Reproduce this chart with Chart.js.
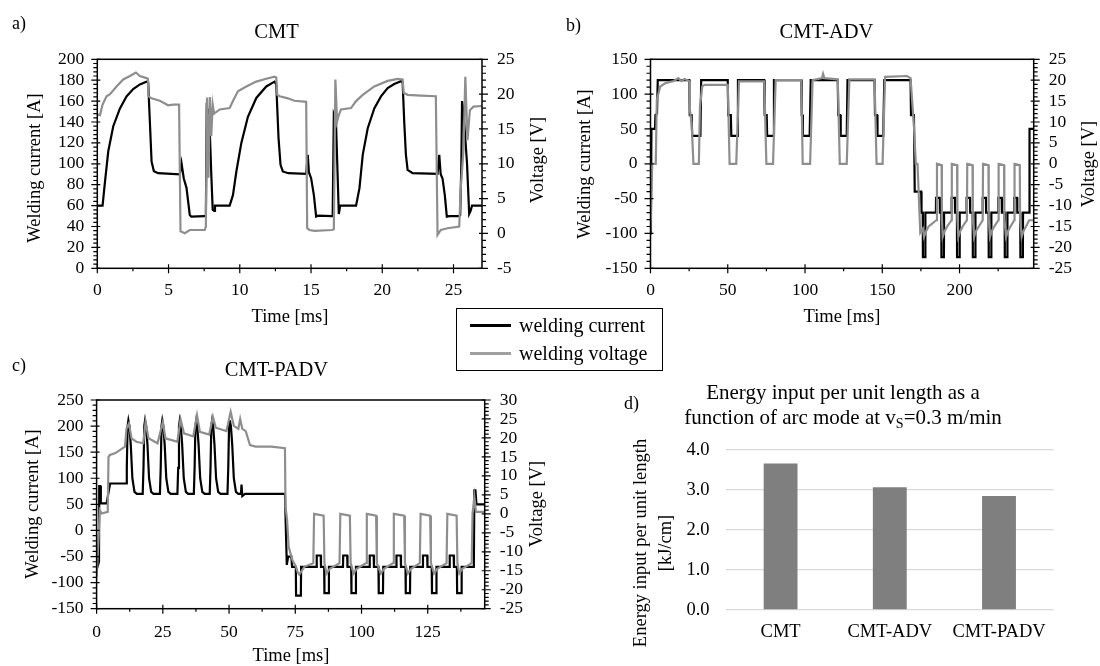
<!DOCTYPE html>
<html>
<head>
<meta charset="utf-8">
<script src="https://cdn.jsdelivr.net/npm/chart.js@4.4.1/dist/chart.umd.min.js"></script>
<style>
  body { margin: 0; background: #fff; width: 1100px; height: 666px; position: relative; overflow: hidden; font-family: 'Liberation Serif', 'Times New Roman', serif; color: #000; }
  canvas { position: absolute; }
  .tag { position: absolute; font-size: 18px; line-height: 20px; }
  #legend { position: absolute; left: 456px; top: 308px; width: 207px; height: 63px; box-sizing: border-box; border: 1.3px solid #000; background: #fff; }
  .swatch { position: absolute; left: 13px; width: 41px; height: 3px; }
  .ltext { position: absolute; left: 62px; font-size: 20px; line-height: 22px; white-space: nowrap; }
  #titleD { position: absolute; left: 643px; top: 380px; width: 400px; text-align: center; font-size: 21px; line-height: 25px; white-space: nowrap; }
  #titleD sub { font-size: 14px; line-height: 0; vertical-align: -4px; }
</style>
</head>
<body>
<canvas id="chartA" width="553" height="330" style="left:0;top:0"></canvas>
<canvas id="chartB" width="547" height="330" style="left:553px;top:0"></canvas>
<canvas id="chartC" width="553" height="336" style="left:0;top:330px"></canvas>
<canvas id="chartD" width="547" height="336" style="left:553px;top:330px"></canvas>

<div class="tag" style="left:12px;top:13px">a)</div>
<div class="tag" style="left:566px;top:15px">b)</div>
<div class="tag" style="left:12px;top:355px">c)</div>
<div class="tag" style="left:624px;top:393px">d)</div>

<div id="legend">
  <div class="swatch" style="top:15px;background:#000"></div>
  <div class="ltext" style="top:5px">welding current</div>
  <div class="swatch" style="top:43px;background:#a0a0a0"></div>
  <div class="ltext" style="top:33px">welding voltage</div>
</div>

<div id="titleD">Energy input per unit length as a<br>function of arc mode at v<sub>S</sub>=0.3 m/min</div>

<script>
// ---- a) CMT : [time ms, value]
const cmtCurrent = [
  [0,60],[0.37,60],[0.54,83],[0.77,112],[1.12,136],[1.59,153],[2.05,164.5],[2.52,171.6],[2.99,176],[3.45,178.6],[3.57,178],
  [3.69,140],[3.81,102],[3.97,93],[4.27,91],[5.79,90],[5.91,100.6],[6.07,86],[6.26,77],[6.49,51],[6.6,49.5],[7.54,50],
  [7.62,50],[7.68,154],[7.85,149],[8.0,90],[8.1,56],[8.2,55],[8.26,60],[9.29,60],[9.52,70],[9.76,92.6],[10.11,120],
  [10.57,145],[11.16,163],[11.86,174],[12.44,178.6],[12.56,176],[12.72,124.6],[12.86,99],[13.02,92.7],[13.4,91],[14.66,90.4],
  [14.77,108.6],[14.85,92],[15.01,86],[15.2,70],[15.36,49.5],[15.5,50.5],[16.46,50],[16.52,50],[16.6,147],[16.75,141],
  [16.95,52],[17.05,60],[18.16,60],[18.4,76.7],[18.63,108.6],[18.98,134],[19.44,153],[19.91,164.5],[20.38,172.5],[20.84,176.4],
  [21.31,179],[21.43,178],[21.54,140.6],[21.66,108.6],[21.78,94.2],[22.13,91],[23.88,90.4],[24.0,108.6],[24.1,90],[24.23,86],
  [24.39,70],[24.53,49.5],[24.7,50],[25.4,50],[25.47,51],[25.55,100],[25.6,160],[25.7,150],[25.95,100],[26.1,52],[26.2,55],
  [26.3,60],[27,60]
];
const cmtVoltage = [
  [0,17.1],[0.19,17.0],[0.37,18.5],[0.65,19.7],[0.89,20.0],[1.35,21.1],[1.82,22.1],[2.29,22.6],[2.71,23.1],[2.99,22.6],[3.45,22.3],
  [3.55,22.2],[3.59,19.7],[3.8,19.4],[4.39,19.05],[4.97,18.4],[5.32,18.5],[5.74,18.5],[5.84,0.3],[6.14,0.03],[6.49,0.5],[7.54,0.5],
  [7.62,1],[7.7,19.5],[7.8,8],[7.9,19.6],[8.0,14],[8.1,18.5],[8.2,17.2],[8.59,17.8],[9.29,18],[9.52,19],[9.87,20.4],[10.46,21.1],
  [11.16,21.8],[11.86,22.2],[12.44,22.5],[12.56,22.4],[12.63,19.9],[12.8,19.7],[13.37,19.4],[13.84,19.05],[14.66,18.9],[14.73,0.75],
  [14.89,0.5],[15.24,0.37],[16.46,0.5],[16.6,0.6],[16.71,22.1],[16.83,16.1],[16.92,16.8],[17.1,17.8],[17.81,18.0],[18.16,19],
  [18.63,19.9],[19.44,21.1],[20.38,21.9],[21.08,22.2],[21.43,22.1],[21.5,20.2],[21.78,19.9],[22.71,19.8],[23.76,19.7],[23.88,-0.2],
  [24.11,0.5],[24.58,0.75],[25.4,1.0],[25.51,6.5],[25.7,12],[25.83,22.5],[25.98,13.4],[26.15,17.7],[26.4,18.2],[27,18.3]
];
const cmtTimeTicks = [0, 5, 10, 15, 20, 25];

// ---- b) CMT-ADV
const advCurrent = [
  [0,-100],[0.3,-71],[0.6,50],[2.9,50],[3.2,70],[4.2,72],[4.7,120],[25.1,120],[25.4,70],[26.6,70],[27.0,40],[32.3,40],[32.8,120],
  [50,120],[50.3,70],[52,70],[52.3,40],[56.2,40],[56.6,120],
  [73.6,120],[73.9,70],[75.2,70],[75.5,40],[79.3,40],[79.9,120],
  [97.6,120],[97.9,70],[98.3,70],[98.6,40],[103,40],[103.7,120],
  [121.2,120],[121.5,70],[122.8,70],[123.1,40],[127,40],[127.5,120],
  [145,120],[145.3,70],[146.6,70],[146.9,40],[150.6,40],[151.3,120],
  [168.3,120],[168.6,70],[170.5,70],[171,-40],[175.2,-40],[175.4,-70],[176.2,-70],[176.3,-134],[177.8,-134],[177.9,-70],
  [184.7,-70],[184.8,-49],[187.2,-49],[187.3,-70],[188.2,-70],[188.3,-134],[189.9,-134],[190,-70],
  [194.8,-70],[194.9,-49],[197,-49],[197.1,-70],[198.3,-70],[198.4,-134],[200,-134],[200.1,-70],
  [204.5,-70],[204.6,-49],[206.8,-49],[206.9,-70],[208.5,-70],[208.6,-134],[210.2,-134],[210.3,-70],
  [214.9,-70],[215,-49],[217.1,-49],[217.2,-70],[218.8,-70],[218.9,-134],[220.5,-134],[220.6,-70],
  [225,-70],[225.1,-49],[227.3,-49],[227.4,-70],[229.2,-70],[229.3,-134],[230.9,-134],[231,-70],
  [235.3,-70],[235.4,-49],[237.3,-49],[237.4,-70],[239.3,-70],[239.4,-134],[241,-134],[241.1,-70],
  [245,-70],[245.3,50],[248,50]
];
const advVoltage = [
  [0,-16.6],[1.1,0],[3.4,0],[4.1,15.3],[6.3,18.5],[9.7,19.3],[15,19.8],[18,20.5],[20,19.8],[22,20.3],[25.1,19.8],[25.5,12.9],
  [26.6,9.7],[27.8,0],[31.3,0],[32,13.7],[33.5,18.5],[35,18.9],[50,18.9],[51.2,0],[55.5,0],[57.3,19.7],[73.6,19.7],[75,0],
  [79.3,0],[81,20],[97.6,20],[98.5,0],[103.3,0],[104.9,20],[111,20.5],[111.7,21.5],[112.5,20.5],[121.2,20.2],[122.5,0],[127,0],
  [128.7,20.2],[145,20.2],[146.3,0],[150.2,0],[151.8,20.8],[166,21],[168.3,20.5],[170.5,9],[171.7,0],[172.8,0],[174.6,-16.5],
  [176.3,-15.5],[177,-17.5],[178.5,-16],[180,-15],[185,-13.5],[185.4,0],[188.4,-0.3],[188.6,-13],[189.1,-17.5],[190.5,-16],
  [192,-15],[194.8,-13.5],[195,0],[198.4,-0.3],[198.6,-13],[199.2,-17.5],[200.6,-16],[202,-15],[204.8,-13.5],[205,0],
  [208.4,-0.3],[208.6,-13],[209.4,-17.5],[210.8,-16],[212.5,-15],[215,-13.5],[215.2,0],[218.7,-0.3],[218.9,-13],[219.7,-17.5],
  [221,-16],[222.5,-15],[225.1,-13.5],[225.3,0],[228.8,-0.3],[229,-13],[230.1,-17.5],[231.5,-16],[233,-15],[235.4,-13.5],
  [235.6,0],[239,-0.3],[239.2,-13],[240.2,-17.5],[241.5,-16],[243,-15],[245,-13.5],[248,-13.5]
];
const advTimeTicks = [0, 50, 100, 150, 200];

// ---- c) CMT-PADV
const padvCurrent = [
  [0,-75],[0.9,-60],[1.0,85],[1.4,85],[1.6,52],[3.8,52],[4.4,70],[5.1,90],[11.1,90],
  [11.4,120],[11.7,200],[12,211],[12.4,200],[12.9,164],[13.5,100],[14.3,74],[15.2,70],
  [17.4,70],[17.7,120],[18.0,200],[18.3,211],[18.7,200],[19.2,164],[19.8,100],[20.6,74],[21.5,70],
  [23.9,70],[24.2,120],[24.5,200],[24.8,211],[25.2,200],[25.7,164],[26.3,100],[27.1,74],[28,70],
  [30.5,70],[30.8,120],[31.1,200],[31.4,211],[31.8,200],[32.3,164],[32.9,100],[33.7,74],[34.6,70],
  [36.7,70],[37.0,120],[37.3,200],[37.6,211],[38.0,200],[38.5,164],[39.1,100],[39.9,74],[40.8,70],
  [42.7,70],[43.0,120],[43.3,200],[43.6,211],[44.0,200],[44.5,164],[45.1,100],[45.9,74],[46.8,70],
  [49.4,70],[49.7,120],[50.0,200],[50.3,211],[50.7,200],[51.2,164],[51.8,100],[52.6,74],[53.5,70],
  [54.5,70],[54.7,88],[55,66],[56,70],[71.1,70],[71.3,30],[71.8,-66],[72.3,-50],[73.5,-50],[73.8,-70],
  [75.2,-70],[75.3,-125],[77.1,-125],[77.2,-70],
  [83.0,-70],[83.1,-48],[84.6,-48],[84.7,-70],[85.9,-70],[86.0,-120],[87.6,-120],[87.7,-70],
  [93.0,-70],[93.1,-48],[94.6,-48],[94.7,-70],[96.1,-70],[96.2,-120],[97.8,-120],[97.9,-70],
  [103.0,-70],[103.1,-48],[104.6,-48],[104.7,-70],[106.4,-70],[106.5,-120],[108.1,-120],[108.2,-70],
  [113.1,-70],[113.2,-48],[114.8,-48],[114.9,-70],[116.6,-70],[116.7,-120],[118.3,-120],[118.4,-70],
  [123.1,-70],[123.2,-48],[124.8,-48],[124.9,-70],[126.5,-70],[126.6,-120],[128.2,-120],[128.3,-70],
  [133.2,-70],[133.3,-48],[134.8,-48],[134.9,-70],[136.0,-70],[136.1,-120],[137.7,-120],[137.8,-70],
  [142.4,-70],[142.6,77],[143,77],[143.4,50],[146.5,50]
];
const padvVoltage = [
  [0,-16.6],[0.5,-10],[1.2,1],[1.9,0.1],[4.2,0.5],[4.5,15],[5,15.5],[7.1,16],[10.7,17.7],[11.3,22.5],[12.2,23.8],[13.2,19.9],
  [15,19],[17.6,18.6],[18.5,24.2],[19.6,19.9],[23,18.6],[25,24.2],[26,19.9],[30.5,19],[31.7,24.9],[33,21.2],[36.5,20.4],
  [37.9,26],[39,21.6],[42.5,20.9],[43.9,25.6],[45,22.7],[49,21.8],[50.6,26.9],[51.8,23.2],[53.5,22.4],[54.2,25],[55,22.4],
  [56.3,21.8],[57.9,18.1],[60,17.7],[66,17.7],[71.1,17.3],[71.3,1.9],[71.9,-1.6],[72.5,-8.7],[73.9,-12.2],[75.3,-14],
  [75.8,-15.2],[76.5,-16],[78.5,-13.9],[81.8,-13],[82.1,0],[85.7,-0.5],[86,-13],[86.8,-15.7],[88,-14.5],[91.7,-13],[92,0],
  [95.6,-0.5],[95.9,-13],[97,-15.7],[98.2,-14.5],[101.7,-13],[102,0],[105.5,-0.5],[105.8,-13],[107.3,-15.7],[108.5,-14.5],
  [111.9,-13],[112.2,0],[116.1,-0.5],[116.4,-13],[117.5,-15.7],[118.7,-14.5],[122,-13],[122.3,0],[125.9,-0.5],[126.2,-13],
  [127.4,-15.7],[128.6,-14.5],[132.1,-13],[132.4,0],[135.9,-0.5],[136.2,-13],[136.9,-15.7],[138,-14.5],[141.6,-13],[141.9,0],
  [142.6,4.5],[143.2,0.5],[146.5,0.5]
];
const padvTimeTicks = [0, 25, 50, 75, 100, 125];

// ---- d) energy input
const arcModes = ['CMT', 'CMT-ADV', 'CMT-PADV'];
const energyInput = [3.66, 3.07, 2.85];

const FONT = "'Liberation Serif', 'Times New Roman', serif";
const CURRENT_COLOR = '#000000';
const VOLTAGE_COLOR = '#8e8e8e';

// axis box with major/minor tick marks
const framePlugin = {
  id: 'frame',
  afterDraw(chart, args, opts) {
    if (!opts.on) return;
    const { ctx, chartArea: a, scales } = chart;
    const isMajor = (v, step) => Math.abs(v / step - Math.round(v / step)) < 1e-6;
    ctx.save();
    ctx.strokeStyle = '#000';
    ctx.lineWidth = 1.5;
    ctx.strokeRect(a.left, a.top, a.right - a.left, a.bottom - a.top);
    ctx.lineWidth = 1.2;
    ctx.beginPath();
    const x = scales.x;
    for (let v = x.min; v <= x.max + 1e-9; v += opts.xMinor) {
      const px = x.getPixelForValue(v);
      const major = isMajor(v, opts.xMajor);
      ctx.moveTo(px, a.bottom - (major ? 4 : 0));
      ctx.lineTo(px, a.bottom + (major ? 5 : 3));
    }
    const y = scales.y;
    for (let v = y.min; v <= y.max + 1e-9; v += opts.yMinor) {
      const py = y.getPixelForValue(v);
      const major = isMajor(v, opts.yMajor);
      ctx.moveTo(a.left - (major ? 6 : 4), py);
      ctx.lineTo(a.left + (major ? 3 : 0), py);
    }
    const y2 = scales.y2;
    for (let v = y2.min; v <= y2.max + 1e-9; v += opts.y2Minor) {
      const py = y2.getPixelForValue(v);
      const major = isMajor(v, opts.y2Major);
      ctx.moveTo(a.right - (major ? 3 : 0), py);
      ctx.lineTo(a.right + (major ? 6 : 4), py);
    }
    ctx.stroke();
    ctx.restore();
  }
};

// free text (axis titles), canvas coordinates
const textPlugin = {
  id: 'texts',
  afterDraw(chart, args, opts) {
    const ctx = chart.ctx;
    (opts.items || []).forEach(it => {
      ctx.save();
      ctx.font = (it.size || 18.5) + 'px ' + FONT;
      ctx.fillStyle = '#000';
      ctx.textAlign = 'center';
      ctx.textBaseline = 'middle';
      ctx.translate(it.x, it.y);
      if (it.rot) ctx.rotate(it.rot);
      ctx.fillText(it.text, 0, 0);
      ctx.restore();
    });
  }
};

function toPoints(arr) {
  return arr.map(([x, y]) => ({ x, y }));
}

function waveChart(id, p) {
  const tickFont = { family: FONT, size: 17.5 };
  return new Chart(document.getElementById(id), {
    type: 'scatter',
    data: {
      datasets: [
        { label: 'welding voltage', data: toPoints(p.voltage), yAxisID: 'y2', showLine: true,
          borderColor: VOLTAGE_COLOR, borderWidth: 2.2, pointRadius: 0, tension: 0, order: 0 },
        { label: 'welding current', data: toPoints(p.current), yAxisID: 'y', showLine: true,
          borderColor: CURRENT_COLOR, borderWidth: 2.2, pointRadius: 0, tension: 0, order: 1 }
      ]
    },
    options: {
      responsive: false,
      devicePixelRatio: 1,
      animation: false,
      events: [],
      layout: { padding: 0 },
      scales: {
        x: {
          type: 'linear', min: 0, max: p.xMax,
          afterBuildTicks: s => { s.ticks = p.xTicks.map(v => ({ value: v })); },
          afterFit: s => { s.height = p.xHeight; },
          grid: { display: false, drawTicks: false },
          border: { display: false },
          ticks: { color: '#000', font: tickFont, padding: p.xPad, maxRotation: 0, autoSkip: false }
        },
        y: {
          type: 'linear', position: 'left', min: p.iMin, max: p.iMax,
          afterFit: s => { s.width = p.leftW; },
          grid: { display: false, drawTicks: false },
          border: { display: false },
          ticks: { color: '#000', font: tickFont, padding: 13, stepSize: p.iStep, autoSkip: false }
        },
        y2: {
          type: 'linear', position: 'right', min: p.vMin, max: p.vMax,
          afterFit: s => { s.width = p.rightW; },
          grid: { display: false, drawTicks: false },
          border: { display: false },
          ticks: { color: '#000', font: tickFont, padding: 15, stepSize: 5, autoSkip: false }
        }
      },
      plugins: {
        legend: { display: false },
        tooltip: { enabled: false },
        title: {
          display: true, text: p.title, color: '#000',
          font: { family: FONT, size: 20.5, weight: 'normal', lineHeight: 1.2 },
          padding: { top: p.titleTop, bottom: p.titleBottom }
        },
        frame: { on: true, xMinor: p.xMajor / 2, xMajor: p.xMajor, yMinor: p.iStep / 5, yMajor: p.iStep, y2Minor: 1, y2Major: 5 },
        texts: { items: p.texts }
      }
    },
    plugins: [framePlugin, textPlugin]
  });
}

waveChart('chartA', {
  title: 'CMT', titleTop: 20, titleBottom: 14.7,
  current: cmtCurrent, voltage: cmtVoltage,
  xMax: 27, xTicks: cmtTimeTicks, xMajor: 5, xHeight: 61.7, xPad: 11.5,
  iMin: 0, iMax: 200, iStep: 20, vMin: -5, vMax: 25,
  leftW: 97.3, rightW: 71,
  texts: [
    { text: 'Welding current [A]', x: 35, y: 168, rot: -Math.PI / 2 },
    { text: 'Voltage [V]', x: 538, y: 160, rot: -Math.PI / 2 },
    { text: 'Time [ms]', x: 290, y: 317 }
  ]
});

waveChart('chartB', {
  title: 'CMT-ADV', titleTop: 20, titleBottom: 14.7,
  current: advCurrent, voltage: advVoltage,
  xMax: 248, xTicks: advTimeTicks, xMajor: 50, xHeight: 61.7, xPad: 11.5,
  iMin: -150, iMax: 150, iStep: 50, vMin: -25, vMax: 25,
  leftW: 97.5, rightW: 66.3,
  texts: [
    { text: 'Welding current [A]', x: 32, y: 164, rot: -Math.PI / 2 },
    { text: 'Voltage [V]', x: 536, y: 164, rot: -Math.PI / 2 },
    { text: 'Time [ms]', x: 289, y: 317 }
  ]
});

waveChart('chartC', {
  title: 'CMT-PADV', titleTop: 28, titleBottom: 17.4,
  current: padvCurrent, voltage: padvVoltage,
  xMax: 146.5, xTicks: padvTimeTicks, xMajor: 25, xHeight: 57.3, xPad: 13,
  iMin: -150, iMax: 250, iStep: 50, vMin: -25, vMax: 30,
  leftW: 96.6, rightW: 68.3,
  texts: [
    { text: 'Welding current [A]', x: 33, y: 174, rot: -Math.PI / 2 },
    { text: 'Voltage [V]', x: 537, y: 174, rot: -Math.PI / 2 },
    { text: 'Time [ms]', x: 291, y: 326 }
  ]
});

new Chart(document.getElementById('chartD'), {
  type: 'bar',
  data: {
    labels: arcModes,
    datasets: [{ data: energyInput, backgroundColor: '#7f7f7f', borderWidth: 0, barPercentage: 0.31, categoryPercentage: 1 }]
  },
  options: {
    responsive: false,
    devicePixelRatio: 1,
    animation: false,
    events: [],
    layout: { padding: { top: 120, right: 46.4, left: 0, bottom: 0 } },
    scales: {
      x: {
        afterFit: s => { s.height = 56; },
        grid: { display: false, drawTicks: false },
        border: { display: false },
        ticks: { color: '#000', font: { family: FONT, size: 18.5 }, padding: 11, maxRotation: 0, autoSkip: false }
      },
      y: {
        min: 0, max: 4,
        afterFit: s => { s.width = 173; },
        grid: { color: '#d9d9d9', lineWidth: 1.3, drawTicks: false },
        border: { display: false },
        ticks: { color: '#000', font: { family: FONT, size: 18.5 }, padding: 16.5, stepSize: 1, autoSkip: false, callback: v => v.toFixed(1) }
      }
    },
    plugins: {
      legend: { display: false },
      tooltip: { enabled: false },
      texts: { items: [
        { text: 'Energy input per unit length', x: 88, y: 213, rot: -Math.PI / 2 },
        { text: '[kJ/cm]', x: 113, y: 213, rot: -Math.PI / 2 }
      ] }
    }
  },
  plugins: [textPlugin]
});
</script>
</body>
</html>
